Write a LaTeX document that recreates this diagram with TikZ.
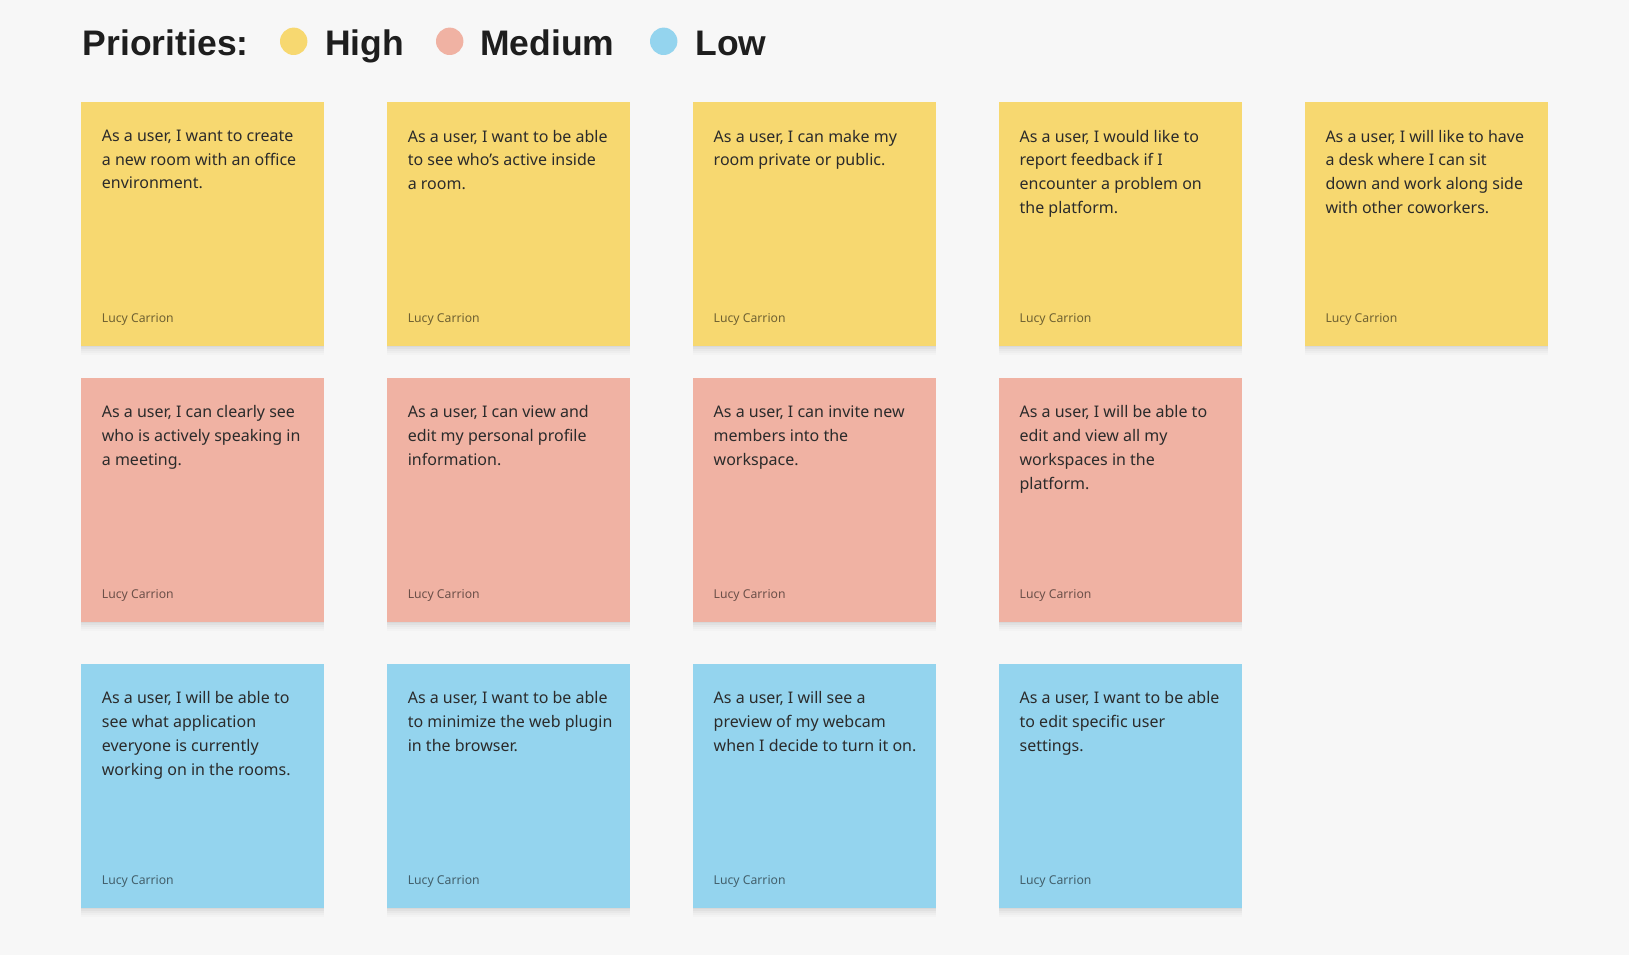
\documentclass[tikz,border=0pt]{standalone}
\usepackage{fontspec}
\setmainfont{Noto Sans}
\newfontfamily\headfont{Liberation Sans}
\usetikzlibrary{positioning}

\definecolor{bg}{HTML}{F7F7F7}
\definecolor{highc}{HTML}{F7D870}
\definecolor{medc}{HTML}{F0B2A3}
\definecolor{lowc}{HTML}{94D4EE}
\definecolor{ink}{HTML}{2B2B2B}
\definecolor{heading}{HTML}{1E1E1E}

\begin{document}
\begin{tikzpicture}[x=1pt,y=-1pt,node distance=32pt and 62.5pt,
  card/.style={rectangle,inner sep=0pt,minimum width=243pt,minimum height=243.5pt,
    preaction={fill=black,opacity=0.03,transform canvas={yshift=-1.5pt}},
    preaction={fill=black,opacity=0.03,transform canvas={yshift=-3pt}},
    preaction={fill=black,opacity=0.025,transform canvas={yshift=-5pt}},
    preaction={fill=black,opacity=0.02,transform canvas={yshift=-7pt}},
    preaction={fill=black,opacity=0.015,transform canvas={yshift=-9pt}},
    label={[author]south west:Lucy Carrion}},
  high/.style={card,fill=highc},
  medium/.style={card,fill=medc},
  low/.style={card,fill=lowc},
  story/.style={anchor=north west,inner sep=0pt,xshift=20.7pt,yshift=-27.7pt,align=left,
    text=ink,font=\fontsize{16}{23.8}\selectfont,execute at begin node={\rule{0pt}{13pt}}},
  author/.style={anchor=base west,inner sep=0pt,xshift=20.7pt,yshift=23.5pt,
    text=black,text opacity=0.55,font=\fontsize{12.2}{14}\selectfont},
  heading/.style={anchor=base west,inner sep=0pt,text=heading,
    font=\headfont\bfseries\fontsize{35.5}{42}\selectfont},
  dot/.style={circle,inner sep=0pt,minimum size=27.4pt}]
  \useasboundingbox[fill=bg] (0,0) rectangle (1629,955);

  % priorities legend
  \node[heading] (prio) at (82.7,55.7) {Priorities:};
  \node[dot,fill=highc] (dhigh) at (293.7,41.3) {};
  \node[heading] (thigh) at (325,55.7) {High};
  \node[dot,fill=medc] (dmed) at (449.7,41.3) {};
  \node[heading] (tmed) at (480,55.7) {Medium};
  \node[dot,fill=lowc] (dlow) at (663.7,41.3) {};
  \node[heading] (tlow) at (695.3,55.7) {Low};

  % high
  \node[high,anchor=north west] (h1) at (81,102)
    [label={[story]north west:{As a user, I want to create\\a new room with an office\\environment.}}] {};
  \node[high,right=of h1] (h2)
    [label={[story]north west:{As a user, I want to be able\\to see who’s active inside\\a room.}}] {};
  \node[high,right=of h2] (h3)
    [label={[story]north west:{As a user, I can make my\\room private or public.}}] {};
  \node[high,right=of h3] (h4)
    [label={[story]north west:{As a user, I would like to\\report feedback if I\\encounter a problem on\\the platform.}}] {};
  \node[high,right=of h4] (h5)
    [label={[story]north west:{As a user, I will like to have\\a desk where I can sit\\down and work along side\\with other coworkers.}}] {};

  % medium
  \node[medium,below=of h1] (m1)
    [label={[story]north west:{As a user, I can clearly see\\who is actively speaking in\\a meeting.}}] {};
  \node[medium,right=of m1] (m2)
    [label={[story]north west:{As a user, I can view and\\edit my personal profile\\information.}}] {};
  \node[medium,right=of m2] (m3)
    [label={[story]north west:{As a user, I can invite new\\members into the\\workspace.}}] {};
  \node[medium,right=of m3] (m4)
    [label={[story]north west:{As a user, I will be able to\\edit and view all my\\workspaces in the\\platform.}}] {};

  % low
  \node[low,below=42pt of m1] (l1)
    [label={[story]north west:{As a user, I will be able to\\see what application\\everyone is currently\\working on in the rooms.}}] {};
  \node[low,right=of l1] (l2)
    [label={[story]north west:{As a user, I want to be able\\to minimize the web plugin\\in the browser.}}] {};
  \node[low,right=of l2] (l3)
    [label={[story]north west:{As a user, I will see a\\preview of my webcam\\when I decide to turn it on.}}] {};
  \node[low,right=of l3] (l4)
    [label={[story]north west:{As a user, I want to be able\\to edit specific user\\settings.}}] {};
\end{tikzpicture}
\end{document}
